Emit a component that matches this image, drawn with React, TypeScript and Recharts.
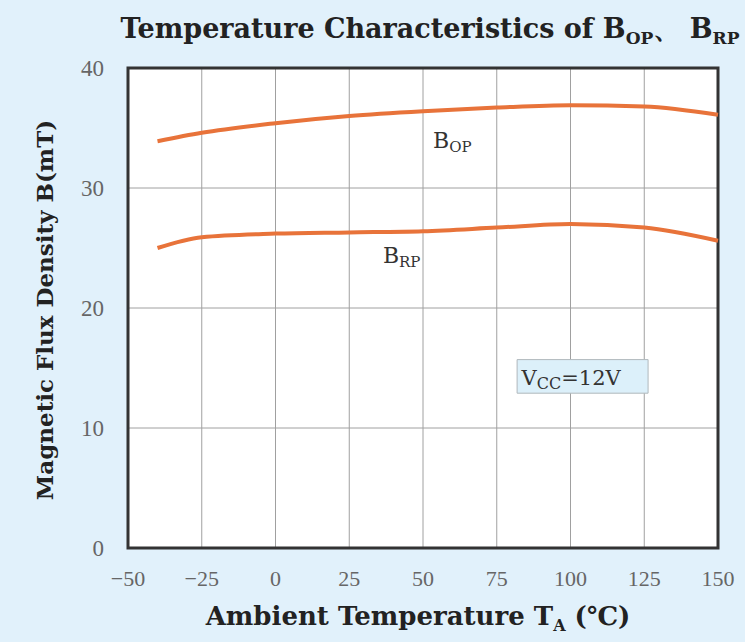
import React from "react";
import {
  LineChart,
  Line,
  XAxis,
  YAxis,
  CartesianGrid,
  ReferenceArea,
  ReferenceDot,
} from "recharts";

const temps = [-40, -25, 0, 25, 50, 75, 100, 125, 150];
const bopValues = [33.9, 34.6, 35.4, 36.0, 36.4, 36.7, 36.9, 36.8, 36.1];
const brpValues = [25.0, 25.9, 26.2, 26.3, 26.4, 26.7, 27.0, 26.7, 25.6];
const xTicks = [-50, -25, 0, 25, 50, 75, 100, 125, 150];
const yTicks = [0, 10, 20, 30, 40];

const data = temps.map((t, i) => ({ t, bop: bopValues[i], brp: brpValues[i] }));

const SERIF = "'DejaVu Serif', 'Liberation Serif', serif";
const TICK_FONT = "'Liberation Serif', serif";
const LINE = "#e8733a";

function SubLabel({ cx, cy, main, sub, rest, size, subSize }: any) {
  return (
    <text x={cx} y={cy} fontFamily={SERIF} fontSize={size} fill="#333">
      {main}
      <tspan fontSize={subSize} dy={4}>{sub}</tspan>
      {rest ? <tspan dy={-4}>{rest}</tspan> : null}
    </text>
  );
}

export default function App() {
  return (
    <div
      style={{
        position: "absolute",
        left: 0,
        top: 0,
        width: 745,
        height: 642,
        background: "#e1f1fb",
        fontFamily: SERIF,
      }}
    >
      <div
        style={{
          position: "absolute",
          left: 100,
          top: 14,
          width: 660,
          textAlign: "center",
          fontWeight: "bold",
          fontSize: 27,
          lineHeight: "30px",
          color: "#222",
          whiteSpace: "nowrap",
        }}
      >
        Temperature Characteristics of B<sub style={{ fontSize: 17, lineHeight: 0 }}>OP</sub>、 B
        <sub style={{ fontSize: 17, lineHeight: 0 }}>RP</sub>
      </div>
      <div
        style={{
          position: "absolute",
          left: 45 - 220,
          top: 296,
          width: 440,
          textAlign: "center",
          transform: "rotate(-90deg)",
          fontWeight: "bold",
          fontSize: 23,
          lineHeight: "28px",
          color: "#222",
          whiteSpace: "nowrap",
        }}
      >
        Magnetic Flux Density B(mT)
      </div>
      <div
        style={{
          position: "absolute",
          left: 118,
          top: 601,
          width: 600,
          textAlign: "center",
          fontWeight: "bold",
          fontSize: 26,
          lineHeight: "30px",
          color: "#222",
          whiteSpace: "nowrap",
        }}
      >
        Ambient Temperature T<sub style={{ fontSize: 16, lineHeight: 0 }}>A</sub> (℃)
      </div>
      <LineChart
        width={745}
        height={642}
        data={data}
        margin={{ top: 68, right: 27, bottom: 54, left: 68 }}
        style={{ position: "absolute", left: 0, top: 0 }}
      >
        <CartesianGrid stroke="#a0a0a0" strokeWidth={1} fill="#ffffff" fillOpacity={1} />
        <XAxis
          dataKey="t"
          type="number"
          domain={[-50, 150]}
          ticks={xTicks}
          axisLine={false}
          tickLine={false}
          tickMargin={16}
          height={40}
          tick={{ fill: "#666", fontSize: 22, fontFamily: TICK_FONT }}
          tickFormatter={(v: number) => (v < 0 ? "\u2212" + Math.abs(v) : String(v))}
        />
        <YAxis
          type="number"
          domain={[0, 40]}
          ticks={yTicks}
          axisLine={false}
          tickLine={false}
          tickMargin={18}
          width={60}
          tick={{ fill: "#666", fontSize: 23, fontFamily: TICK_FONT }}
        />
        <ReferenceArea
          x1={-50}
          x2={150}
          y1={0}
          y2={40}
          fill="none"
          stroke="#333"
          strokeWidth={3}
          ifOverflow="visible"
        />
        <ReferenceArea
          x1={81.9}
          x2={126.3}
          y1={12.9}
          y2={15.7}
          fill="#dcf0fa"
          fillOpacity={1}
          stroke="#b0b8bc"
          strokeWidth={1}
        />
        <Line
          dataKey="bop"
          stroke={LINE}
          strokeWidth={4}
          dot={false}
          type="monotone"
          isAnimationActive={false}
        />
        <Line
          dataKey="brp"
          stroke={LINE}
          strokeWidth={4}
          dot={false}
          type="monotone"
          isAnimationActive={false}
        />
        <ReferenceDot
          x={53.4}
          y={33.3}
          r={0}
          shape={(p: any) => <SubLabel {...p} main="B" sub="OP" size={22} subSize={15} />}
        />
        <ReferenceDot
          x={36.4}
          y={23.75}
          r={0}
          shape={(p: any) => <SubLabel {...p} main="B" sub="RP" size={22} subSize={15} />}
        />
        <ReferenceDot
          x={83.4}
          y={13.6}
          r={0}
          shape={(p: any) => (
            <SubLabel {...p} main="V" sub="CC" rest="=12V" size={21} subSize={16} />
          )}
        />
      </LineChart>
    </div>
  );
}
